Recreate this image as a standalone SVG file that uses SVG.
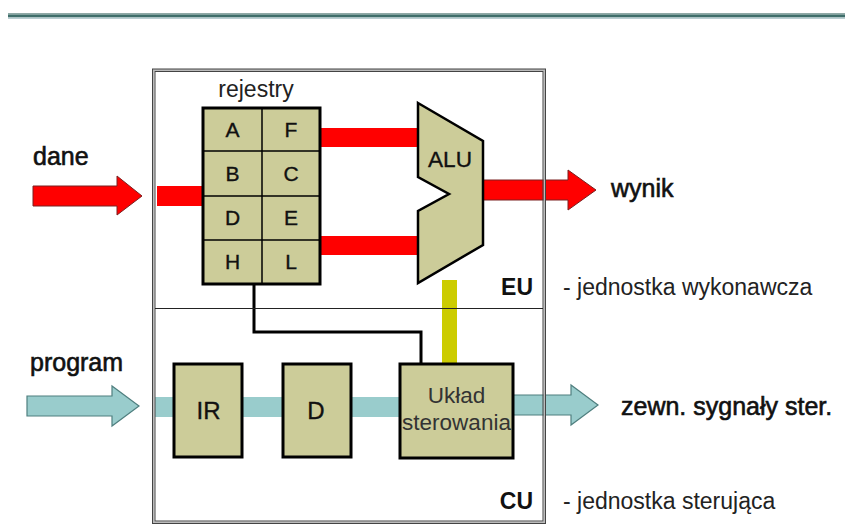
<svg xmlns="http://www.w3.org/2000/svg" width="845" height="526" viewBox="0 0 845 526">
<style>
text{font-family:"Liberation Sans",Arial,sans-serif}
.lbl{font-size:25px;fill:#111;stroke:#111;stroke-width:0.6}
.bold{font-size:23px;font-weight:bold;fill:#111}
.desc{font-size:23px;fill:#222}
.reg{font-size:21px;fill:#111;stroke:#111;stroke-width:0.35;text-anchor:middle}
.inner{fill:#111;stroke:#111;stroke-width:0.35;text-anchor:middle}
.box{fill:#cccc99;stroke:#000;stroke-width:3}
.red{fill:#ff0000}
.redarrow{fill:#ff0000;stroke:#7a2020;stroke-width:1}
.cyanarrow{fill:#99cccc;stroke:#4f7f7f;stroke-width:1.2}
</style>
<rect width="845" height="526" fill="#fff"/>
<g id="topline">
<rect x="8" y="13" width="837" height="1.5" fill="#8fa9a6"/>
<rect x="8" y="14.5" width="837" height="3" fill="#3f6e6a"/>
<rect x="8" y="17.5" width="837" height="1.5" fill="#b9ced2"/>
</g>
<g id="connectors">
<rect class="red" x="157" y="186" width="46" height="20"/>
<rect class="red" x="320" y="128" width="99" height="19"/>
<rect class="red" x="320" y="236" width="99" height="19"/>
<rect x="442" y="280" width="15" height="84" fill="#cccc00"/>
<rect x="155" y="397" width="245" height="20" fill="#99cccc"/>
<polyline points="254,284 254,332 421,332 421,364" fill="none" stroke="#000" stroke-width="3"/>
<polygon class="redarrow" points="33,186 117,186 117,176 142,196 117,215 117,206 33,206"/>
<polygon class="redarrow" points="483,180 568,180 568,170 596,190 568,210 568,200 483,200"/>
<polygon class="cyanarrow" points="27,396 112,396 112,386 139,406 112,426 112,416 27,416"/>
<polygon class="cyanarrow" points="513,395 571,395 571,385 598,405 571,425 571,415 513,415"/>
</g>
<g id="frame">
<rect x="153.5" y="70" width="391" height="452.5" fill="none" stroke="#bbb" stroke-width="2"/>
<rect x="152.5" y="69" width="393" height="454.5" fill="none" stroke="#444" stroke-width="1"/>
<rect x="155" y="71.5" width="388" height="449.5" fill="none" stroke="#444" stroke-width="1"/>
<line x1="155" y1="308.5" x2="543" y2="308.5" stroke="#222" stroke-width="1.2"/>
</g>
<g id="registers">
<text x="256" y="97" class="desc" text-anchor="middle">rejestry</text>
<rect class="box" x="203" y="108" width="117" height="176"/>
<line x1="262" y1="108" x2="262" y2="284" stroke="#000" stroke-width="1.5"/>
<line x1="203" y1="151" x2="320" y2="151" stroke="#000" stroke-width="1.5"/>
<line x1="203" y1="196" x2="320" y2="196" stroke="#000" stroke-width="1.5"/>
<line x1="203" y1="240" x2="320" y2="240" stroke="#000" stroke-width="1.5"/>
<text class="reg" x="232.5" y="137">A</text>
<text class="reg" x="291" y="137">F</text>
<text class="reg" x="232.5" y="181">B</text>
<text class="reg" x="291" y="181">C</text>
<text class="reg" x="232.5" y="225">D</text>
<text class="reg" x="291" y="225">E</text>
<text class="reg" x="232.5" y="269">H</text>
<text class="reg" x="291" y="269">L</text>
</g>
<g id="alu">
<polygon points="418,103 483,141 483,245 418,283 418,211 449,194 418,177" fill="#cccc99" stroke="#000" stroke-width="2.5" stroke-linejoin="miter"/>
<text x="450" y="167" font-size="22.6" class="inner">ALU</text>
</g>
<g id="ir">
<rect class="box" x="174" y="364" width="68" height="93"/>
<text x="208.5" y="419" font-size="24" class="inner">IR</text>
</g>
<g id="d">
<rect class="box" x="283" y="364" width="68" height="93"/>
<text x="316" y="419" font-size="24" class="inner">D</text>
</g>
<g id="uklad">
<rect class="box" x="400" y="364" width="113" height="94"/>
<text x="456.5" y="403" font-size="22.5" fill="#333" text-anchor="middle">Układ</text>
<text x="456.5" y="430" font-size="22.5" fill="#333" text-anchor="middle">sterowania</text>
</g>
<g id="labels">
<text class="lbl" x="33" y="165">dane</text>
<text class="lbl" x="611" y="197">wynik</text>
<text class="lbl" x="30" y="371">program</text>
<text class="lbl" x="621" y="415">zewn. sygnały ster.</text>
<text class="bold" x="533" y="295" text-anchor="end">EU</text>
<text class="bold" x="533" y="509" text-anchor="end">CU</text>
<text class="desc" x="563" y="295">- jednostka wykonawcza</text>
<text class="desc" x="563" y="509">- jednostka sterująca</text>
</g>
</svg>
